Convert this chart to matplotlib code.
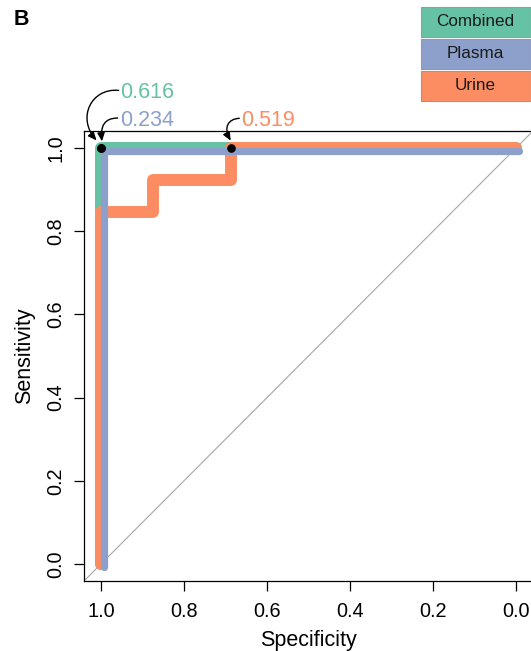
import matplotlib
matplotlib.use("Agg")
import matplotlib.pyplot as plt
from matplotlib.path import Path
from matplotlib.patches import FancyArrowPatch, Rectangle
from matplotlib.transforms import Affine2D, ScaledTranslation

plt.rcParams["font.family"] = ["Liberation Sans", "DejaVu Sans"]

# ROC curves (specificity, sensitivity)
combined_spec = [1.0, 1.0, 0.0]
combined_sens = [0.0, 1.0, 1.0]
plasma_spec = [1.0, 1.0, 0.0]
plasma_sens = [0.0, 1.0, 1.0]
urine_spec = [1.0, 1.0, 0.875, 0.875, 0.6875, 0.6875, 0.0]
urine_sens = [0.0, 0.846, 0.846, 0.923, 0.923, 1.0, 1.0]

# best thresholds and their (specificity, sensitivity)
thresholds = {"Combined": 0.616, "Plasma": 0.234, "Urine": 0.519}
thr_spec = {"Combined": 1.0, "Plasma": 1.0, "Urine": 0.6875}
thr_sens = {"Combined": 1.0, "Plasma": 1.0, "Urine": 1.0}

names = ["Combined", "Plasma", "Urine"]
colors = {"Combined": "#66C2A5", "Plasma": "#8DA0CB", "Urine": "#FC8D62"}

ticks = [1.0, 0.8, 0.6, 0.4, 0.2, 0.0]

W, H = 531, 651
fig = plt.figure(figsize=(W / 100, H / 100), dpi=100)
ax = fig.add_axes([84.4 / W, 70.4 / H, 448.2 / W, 449.2 / H])
ax.set_xlim(1.04, -0.04)
ax.set_ylim(-0.04, 1.04)

# chance diagonal
ax.axline((1.0, 0.0), (0.0, 1.0), color="#A6A6A6", lw=0.8, zorder=1)

# plasma is nudged slightly so it stays visible beside the combined curve
plasma_shift = -0.008
line_kw = dict(solid_capstyle="round", solid_joinstyle="round", clip_on=False)
ax.plot(combined_spec, combined_sens, color=colors["Combined"], lw=8.6, zorder=2, **line_kw)
ax.plot(urine_spec, urine_sens, color=colors["Urine"], lw=8.6, zorder=3, **line_kw)
ax.plot([s + plasma_shift for s in plasma_spec], [s + plasma_shift for s in plasma_sens],
        color=colors["Plasma"], lw=5.2, zorder=4, **line_kw)

# threshold points
ax.plot([thr_spec[n] for n in names], [thr_sens[n] for n in names], "o",
        color="black", ms=5.2, zorder=6, clip_on=False)

# labels (offsets in points from the threshold point) and curved arrows
label_off = {"Combined": (13.6, 36.0), "Plasma": (13.6, 15.6), "Urine": (7.2, 16.1)}
arrow_paths = {
    "Combined": [(12.7, 41.5), (-7.0, 43.4), (-17.5, 21.8), (-3.2, 5.5)],
    "Plasma": [(12.0, 21.6), (2.5, 21.5), (-0.5, 16.1), (0.7, 4.8)],
    "Urine": [(6.2, 21.4), (-2.0, 20.9), (-5.3, 14.9), (0.0, 5.3)],
}
for n in names:
    x0, y0 = thr_spec[n], thr_sens[n]
    ax.annotate(f"{thresholds[n]:.3f}", xy=(x0, y0), xytext=label_off[n],
                textcoords="offset points", ha="left", va="baseline",
                color=colors[n], fontsize=15.5, annotation_clip=False)
    tr = Affine2D().scale(fig.dpi / 72) + ScaledTranslation(x0, y0, ax.transData)
    path = Path(arrow_paths[n], [Path.MOVETO, Path.CURVE4, Path.CURVE4, Path.CURVE4])
    arr = FancyArrowPatch(path=path, arrowstyle="-|>,head_length=0.5,head_width=0.22",
                          mutation_scale=10, lw=1.0, color="black", transform=tr,
                          shrinkA=0, shrinkB=0, clip_on=False, zorder=7)
    fig.add_artist(arr)

ax.set_xticks(ticks)
ax.set_yticks(ticks)
ax.set_xticklabels([f"{t:.1f}" for t in ticks])
ax.set_yticklabels([f"{t:.1f}" for t in ticks])
ax.tick_params(axis="both", direction="out", length=7.2, width=0.9, labelsize=14.3,
               color="black")
ax.tick_params(axis="x", pad=8.5)
ax.tick_params(axis="y", pad=6.5)
for lab in ax.get_yticklabels():
    lab.set_rotation(90)
    lab.set_va("center")
    lab.set_ha("right")
for sp in ax.spines.values():
    sp.set_linewidth(0.9)

ax.set_xlabel("Specificity", fontsize=15.5, labelpad=6.5)
ax.set_ylabel("Sensitivity", fontsize=15.5, labelpad=8.5)

# legend boxes in the top-right corner
box_top = [7.3, 39.3, 71.3]
box_h = 29.2
for n, top in zip(names, box_top):
    fig.add_artist(Rectangle((420.7 / W, 1 - (top + box_h) / H), 110.0 / W, box_h / H,
                             transform=fig.transFigure, facecolor=colors[n],
                             edgecolor="#9A9A9A", lw=0.8))
    fig.text(475.5 / W, 1 - (top + box_h / 2) / H, n, ha="center", va="center",
             fontsize=12.3, color="#1A1A1A")

fig.text(14 / W, 1 - 25 / H, "B", fontweight="bold", fontsize=15.5, va="baseline",
         ha="left")

fig.savefig("out.png", dpi=100)
